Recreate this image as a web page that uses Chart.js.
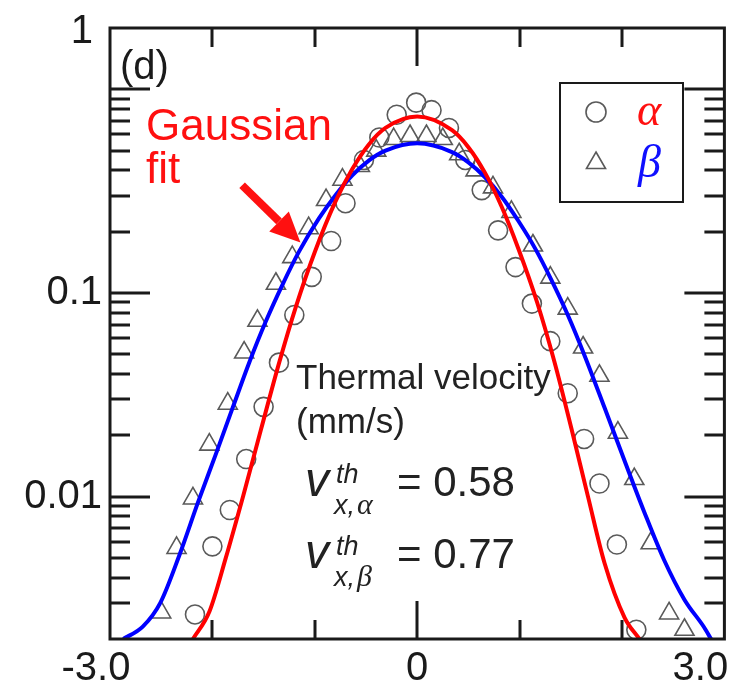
<!DOCTYPE html>
<html>
<head>
<meta charset="utf-8">
<style>
  html, body { margin: 0; padding: 0; background: #fff; }
  canvas { display: block; }
</style>
</head>
<body>
<canvas id="chart" width="737" height="687"></canvas>
<script src="https://cdn.jsdelivr.net/npm/chart.js@4/dist/chart.umd.min.js"></script>
<script>
// measured points (alpha = circles, beta = triangles)
const alphaX = [-2.17, -2.00, -1.83, -1.67, -1.50, -1.35, -1.20, -1.03, -0.84, -0.70, -0.52, -0.37, -0.20, -0.01, 0.14, 0.31, 0.47, 0.63, 0.79, 0.96, 1.12, 1.30, 1.47, 1.63, 1.78, 1.95, 2.14];
const alphaY = [0.00264, 0.0057, 0.0086, 0.0153, 0.0276, 0.0455, 0.078, 0.12, 0.18, 0.276, 0.45, 0.58, 0.75, 0.86, 0.79, 0.646, 0.45, 0.32, 0.203, 0.134, 0.0887, 0.058, 0.0322, 0.0192, 0.0116, 0.00582, 0.00222];

const betaX = [-2.50, -2.35, -2.19, -2.03, -1.85, -1.69, -1.56, -1.38, -1.22, -1.06, -0.89, -0.73, -0.56, -0.40, -0.23, -0.07, 0.09, 0.25, 0.41, 0.57, 0.74, 0.92, 1.13, 1.30, 1.47, 1.62, 1.78, 1.96, 2.12, 2.28, 2.46, 2.61];
const betaY = [0.0027, 0.0056, 0.0098, 0.018, 0.0286, 0.051, 0.073, 0.111, 0.15, 0.208, 0.286, 0.36, 0.42, 0.50, 0.57, 0.59, 0.59, 0.57, 0.48, 0.40, 0.33, 0.25, 0.171, 0.119, 0.0838, 0.054, 0.0392, 0.0206, 0.0122, 0.0059, 0.00267, 0.00222];

// Gaussian fit curves
const fitAlphaX = [-2.19, -2.03, -1.87, -1.70, -1.525, -1.35, -1.185, -1.00, -0.80, -0.634, -0.47, -0.31, 0, 0.34, 0.50, 0.66, 0.825, 0.99, 1.17, 1.34, 1.506, 1.668, 1.83, 2.025, 2.17];
const fitAlphaY = [0.0020, 0.00272, 0.00499, 0.01005, 0.0214, 0.0451, 0.0855, 0.159, 0.280, 0.406, 0.538, 0.646, 0.735, 0.630, 0.520, 0.391, 0.265, 0.164, 0.0903, 0.046, 0.0216, 0.0100, 0.00471, 0.00255, 0.0020];

const fitBetaX = [-2.87, -2.68, -2.51, -2.32, -2.14, -1.96, -1.80, -1.64, -1.48, -1.315, -1.153, -0.958, -0.796, -0.634, -0.47, -0.31, 0, 0.34, 0.50, 0.66, 0.825, 0.99, 1.15, 1.31, 1.474, 1.636, 1.83, 2.025, 2.22, 2.41, 2.61, 2.80, 2.87];
const fitBetaY = [0.0020, 0.0023, 0.0030, 0.0052, 0.0094, 0.0165, 0.0275, 0.0456, 0.0722, 0.110, 0.160, 0.233, 0.303, 0.378, 0.448, 0.500, 0.543, 0.492, 0.438, 0.371, 0.297, 0.225, 0.166, 0.116, 0.0773, 0.0491, 0.0273, 0.0150, 0.00834, 0.0049, 0.00312, 0.00229, 0.0020];

// axis ticks
const yMajor = [0.01, 0.1, 1];
const yMinor = [0.003, 0.004, 0.005, 0.006, 0.007, 0.008, 0.009,
                0.02, 0.03, 0.04, 0.05, 0.06, 0.07, 0.08, 0.09,
                0.2, 0.3, 0.4, 0.5, 0.6, 0.7, 0.8, 0.9];
const xMajor = [0];
const xMinor = [-2, -1, 1, 2];
const xLabels = ["-3.0", "0", "3.0"];
const xLabelAt = [-3, 0, 3];

const pts = (xs, ys) => xs.map((x, i) => ({ x, y: ys[i] }));
const INK = "#1a1a1a";
const MARK = "#5a5a5a";

const framePlugin = {
  id: "frame",
  afterDraw(chart) {
    const { ctx, chartArea: a, scales } = chart;
    const xs = scales.x, ys = scales.y;
    ctx.save();

    // inward ticks
    ctx.strokeStyle = INK;
    ctx.lineWidth = 3;
    const hLine = (py, len) => {
      ctx.beginPath();
      ctx.moveTo(a.left, py); ctx.lineTo(a.left + len, py);
      ctx.moveTo(a.right, py); ctx.lineTo(a.right - len, py);
      ctx.stroke();
    };
    const vLine = (px, len) => {
      ctx.beginPath();
      ctx.moveTo(px, a.top); ctx.lineTo(px, a.top + len);
      ctx.moveTo(px, a.bottom); ctx.lineTo(px, a.bottom - len);
      ctx.stroke();
    };
    yMajor.forEach(v => hLine(Math.round(ys.getPixelForValue(v)), 40));
    yMinor.forEach(v => hLine(Math.round(ys.getPixelForValue(v)), 20));
    xMajor.forEach(v => vLine(Math.round(xs.getPixelForValue(v)), 38));
    xMinor.forEach(v => vLine(Math.round(xs.getPixelForValue(v)), 19));

    // box
    ctx.lineWidth = 3;
    ctx.strokeRect(a.left, a.top, a.right - a.left, a.bottom - a.top);

    // tick labels
    ctx.fillStyle = INK;
    ctx.font = "40px 'Liberation Sans', Arial, sans-serif";
    ctx.textAlign = "right";
    ctx.textBaseline = "middle";
    ctx.fillText("0.1", 102, ys.getPixelForValue(0.1));
    ctx.fillText("0.01", 102, ys.getPixelForValue(0.01));
    ctx.textBaseline = "alphabetic";
    ctx.fillText("1", 93, 43);
    ctx.textAlign = "center";
    const nudge = [-14, 0, -24];
    xLabelAt.forEach((v, i) => ctx.fillText(xLabels[i], xs.getPixelForValue(v) + nudge[i], 680));

    // panel tag
    ctx.textAlign = "left";
    ctx.fillText("(d)", 120, 79);

    // Gaussian fit label + arrow
    ctx.fillStyle = "#ff1010";
    ctx.font = "44px 'Liberation Sans', Arial, sans-serif";
    ctx.fillText("Gaussian", 146, 140);
    ctx.fillText("fit", 146, 183);

    const x0 = xs.getPixelForValue(-1.71), y0 = ys.getPixelForValue(0.338);
    const x1 = xs.getPixelForValue(-1.14), y1 = ys.getPixelForValue(0.177);
    const ang = Math.atan2(y1 - y0, x1 - x0);
    const head = 30, half = 14;
    const bx = x1 - head * Math.cos(ang), by = y1 - head * Math.sin(ang);
    ctx.strokeStyle = "#ff1010";
    ctx.lineWidth = 8;
    ctx.beginPath(); ctx.moveTo(x0, y0); ctx.lineTo(bx, by); ctx.stroke();
    ctx.beginPath();
    ctx.moveTo(x1, y1);
    ctx.lineTo(bx + half * Math.sin(ang), by - half * Math.cos(ang));
    ctx.lineTo(bx - half * Math.sin(ang), by + half * Math.cos(ang));
    ctx.closePath(); ctx.fill();

    // thermal velocity annotation
    ctx.fillStyle = "#222";
    ctx.font = "35px 'Liberation Sans', Arial, sans-serif";
    ctx.fillText("Thermal velocity", 296, 389);
    ctx.fillText("(mm/s)", 296, 433);

    const vth = (base, greek, value) => {
      ctx.font = "italic 48px 'Liberation Sans', Arial, sans-serif";
      ctx.fillText("v", 305, base);
      ctx.font = "italic 27px 'Liberation Sans', Arial, sans-serif";
      ctx.fillText("th", 336, base - 13);
      ctx.fillText("x,", 334, base + 18);
      const w = ctx.measureText("x,").width;
      ctx.font = "italic 30px 'Liberation Serif', 'Times New Roman', serif";
      ctx.fillText(greek, 334 + w + 2, base + 18);
      ctx.font = "42px 'Liberation Sans', Arial, sans-serif";
      ctx.fillText("= " + value, 397, base);
    };
    vth(496, "α", "0.58");
    vth(568, "β", "0.77");

    // legend
    ctx.strokeStyle = INK;
    ctx.lineWidth = 2;
    ctx.strokeRect(560, 83, 123, 119);
    ctx.strokeStyle = MARK;
    ctx.lineWidth = 1.6;
    ctx.beginPath(); ctx.arc(596, 112, 10, 0, Math.PI * 2); ctx.stroke();
    const r = 11;
    ctx.beginPath();
    ctx.moveTo(596, 163 - r);
    ctx.lineTo(596 + r * Math.sin(2 * Math.PI / 3), 163 - r * Math.cos(2 * Math.PI / 3));
    ctx.lineTo(596 + r * Math.sin(4 * Math.PI / 3), 163 - r * Math.cos(4 * Math.PI / 3));
    ctx.closePath(); ctx.stroke();
    ctx.font = "italic 46px 'Liberation Serif', 'Times New Roman', serif";
    ctx.fillStyle = "#ff1010";
    ctx.fillText("α", 637, 125);
    ctx.fillStyle = "#1010ff";
    ctx.fillText("β", 638, 177);

    ctx.restore();
  }
};

new Chart(document.getElementById("chart"), {
  type: "scatter",
  data: {
    datasets: [
      {
        label: "fit α",
        data: pts(fitAlphaX, fitAlphaY),
        showLine: true,
        borderColor: "#ff0000",
        borderWidth: 4,
        pointRadius: 0,
        cubicInterpolationMode: "monotone"
      },
      {
        label: "fit β",
        data: pts(fitBetaX, fitBetaY),
        showLine: true,
        borderColor: "#0000ff",
        borderWidth: 4,
        pointRadius: 0,
        cubicInterpolationMode: "monotone"
      },
      {
        label: "α",
        data: pts(alphaX, alphaY),
        pointStyle: "circle",
        pointRadius: 9.5,
        borderColor: MARK,
        borderWidth: 1.6,
        backgroundColor: "rgba(0,0,0,0)"
      },
      {
        label: "β",
        data: pts(betaX, betaY),
        pointStyle: "triangle",
        pointRadius: 11,
        borderColor: MARK,
        borderWidth: 1.6,
        backgroundColor: "rgba(0,0,0,0)"
      }
    ]
  },
  options: {
    responsive: false,
    animation: false,
    devicePixelRatio: 1,
    layout: { padding: { left: 110, right: 10, top: 28, bottom: 48 } },
    scales: {
      x: { type: "linear", min: -3, max: 3, display: false },
      y: { type: "logarithmic", min: 0.002, max: 2, display: false }
    },
    plugins: {
      legend: { display: false },
      tooltip: { enabled: false }
    }
  },
  plugins: [framePlugin]
});
</script>
</body>
</html>
